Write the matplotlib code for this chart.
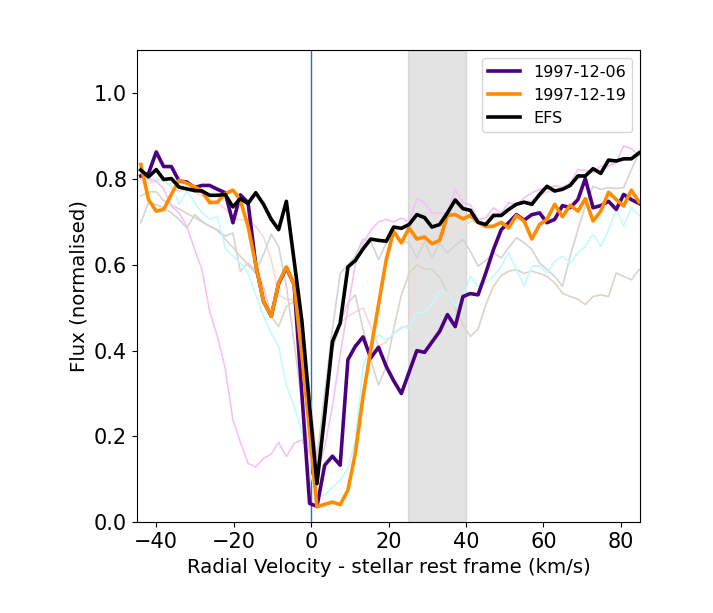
import matplotlib
matplotlib.use('Agg')
import matplotlib.pyplot as plt

# velocity grid (km/s, stellar rest frame)
velocity = [-44.0, -42.0, -40.0, -38.1, -36.1, -34.1, -32.1, -30.1, -28.2, -26.2,
            -24.2, -22.2, -20.2, -18.3, -16.3, -14.3, -12.3, -10.3, -8.4, -6.4,
            -4.4, -2.4, -0.4, 1.5, 3.5, 5.5, 7.5, 9.5, 11.4, 13.4,
            15.4, 17.4, 19.4, 21.3, 23.3, 25.3, 27.3, 29.3, 31.2, 33.2,
            35.2, 37.2, 39.2, 41.1, 43.1, 45.1, 47.1, 49.1, 51.0, 53.0,
            55.0, 57.0, 59.0, 60.9, 62.9, 64.9, 66.9, 68.9, 70.8, 72.8,
            74.8, 76.8, 78.8, 80.7, 82.7, 84.7]

# highlighted epochs
flux_1997_12_06 = [0.807, 0.813, 0.863, 0.829, 0.829, 0.795, 0.793, 0.780, 0.785, 0.785,
                   0.776, 0.768, 0.698, 0.763, 0.745, 0.600, 0.515, 0.480, 0.556, 0.593,
                   0.554, 0.300, 0.044, 0.037, 0.133, 0.154, 0.133, 0.379, 0.410, 0.432,
                   0.383, 0.408, 0.363, 0.330, 0.300, 0.350, 0.400, 0.396, 0.420, 0.445,
                   0.484, 0.456, 0.526, 0.533, 0.530, 0.581, 0.636, 0.682, 0.698, 0.717,
                   0.704, 0.717, 0.721, 0.698, 0.706, 0.738, 0.733, 0.752, 0.801, 0.733,
                   0.738, 0.748, 0.729, 0.764, 0.752, 0.743]

flux_1997_12_19 = [0.834, 0.752, 0.725, 0.729, 0.764, 0.797, 0.790, 0.782, 0.772, 0.745,
                   0.746, 0.766, 0.774, 0.751, 0.690, 0.600, 0.515, 0.480, 0.558, 0.595,
                   0.554, 0.390, 0.210, 0.036, 0.042, 0.047, 0.041, 0.075, 0.160, 0.293,
                   0.402, 0.507, 0.612, 0.678, 0.651, 0.686, 0.660, 0.665, 0.649, 0.657,
                   0.715, 0.717, 0.707, 0.715, 0.699, 0.689, 0.690, 0.699, 0.686, 0.715,
                   0.702, 0.660, 0.694, 0.706, 0.741, 0.712, 0.739, 0.725, 0.754, 0.702,
                   0.725, 0.769, 0.752, 0.737, 0.774, 0.746]

flux_efs = [0.821, 0.805, 0.822, 0.799, 0.801, 0.781, 0.777, 0.773, 0.772, 0.762,
            0.762, 0.764, 0.735, 0.754, 0.743, 0.768, 0.741, 0.706, 0.682, 0.748,
            0.610, 0.470, 0.270, 0.090, 0.250, 0.421, 0.464, 0.595, 0.610, 0.637,
            0.660, 0.657, 0.655, 0.688, 0.685, 0.694, 0.717, 0.710, 0.688, 0.694,
            0.721, 0.751, 0.731, 0.727, 0.699, 0.694, 0.715, 0.715, 0.729, 0.741,
            0.746, 0.741, 0.764, 0.783, 0.772, 0.776, 0.785, 0.807, 0.807, 0.824,
            0.813, 0.844, 0.842, 0.847, 0.847, 0.861]

# other epochs, drawn faintly in the background
flux_bg_violet = [0.811, 0.799, 0.795, 0.777, 0.737, 0.721, 0.690, 0.636, 0.589, 0.491,
                  0.433, 0.359, 0.238, 0.188, 0.137, 0.129, 0.149, 0.159, 0.186, 0.153,
                  0.184, 0.192, 0.160, 0.110, 0.176, 0.270, 0.390, 0.500, 0.600, 0.650,
                  0.680, 0.700, 0.706, 0.700, 0.709, 0.700, 0.754, 0.745, 0.721, 0.720,
                  0.720, 0.776, 0.745, 0.740, 0.706, 0.710, 0.733, 0.720, 0.745, 0.740,
                  0.756, 0.768, 0.776, 0.776, 0.785, 0.780, 0.790, 0.822, 0.820, 0.815,
                  0.830, 0.830, 0.838, 0.877, 0.871, 0.854]

flux_bg_cyan = [0.807, 0.800, 0.800, 0.795, 0.783, 0.741, 0.772, 0.745, 0.721, 0.706,
                0.713, 0.639, 0.620, 0.604, 0.581, 0.530, 0.480, 0.440, 0.410, 0.320,
                0.270, 0.210, 0.120, 0.060, 0.063, 0.082, 0.098, 0.125, 0.190, 0.363,
                0.410, 0.437, 0.425, 0.440, 0.456, 0.452, 0.488, 0.489, 0.507, 0.540,
                0.534, 0.503, 0.523, 0.573, 0.550, 0.558, 0.573, 0.597, 0.628, 0.589,
                0.550, 0.597, 0.597, 0.581, 0.608, 0.620, 0.604, 0.628, 0.643, 0.671,
                0.643, 0.682, 0.729, 0.690, 0.733, 0.715]

flux_bg_grey = [0.698, 0.745, 0.740, 0.733, 0.721, 0.706, 0.686, 0.717, 0.702, 0.690,
                0.682, 0.667, 0.674, 0.585, 0.604, 0.585, 0.624, 0.671, 0.643, 0.550,
                0.420, 0.280, 0.160, 0.120, 0.300, 0.450, 0.580, 0.600, 0.620, 0.660,
                0.655, 0.612, 0.651, 0.674, 0.655, 0.651, 0.616, 0.655, 0.616, 0.650,
                0.628, 0.645, 0.659, 0.632, 0.597, 0.610, 0.628, 0.616, 0.640, 0.663,
                0.652, 0.636, 0.604, 0.589, 0.573, 0.550, 0.620, 0.682, 0.737, 0.783,
                0.776, 0.780, 0.778, 0.780, 0.822, 0.861]

flux_bg_tan = [0.760, 0.770, 0.770, 0.750, 0.740, 0.730, 0.720, 0.710, 0.700, 0.690,
               0.680, 0.660, 0.640, 0.620, 0.600, 0.580, 0.550, 0.480, 0.456, 0.503,
               0.515, 0.400, 0.250, 0.150, 0.300, 0.400, 0.468, 0.511, 0.530, 0.450,
               0.378, 0.320, 0.363, 0.450, 0.530, 0.580, 0.600, 0.590, 0.590, 0.570,
               0.535, 0.500, 0.460, 0.433, 0.450, 0.507, 0.550, 0.575, 0.585, 0.589,
               0.580, 0.585, 0.580, 0.573, 0.558, 0.534, 0.526, 0.520, 0.507, 0.526,
               0.530, 0.526, 0.581, 0.573, 0.565, 0.589]

flux_bg_salmon = [0.800, 0.790, 0.795, 0.800, 0.780, 0.770, 0.780, 0.770, 0.760, 0.750,
                  0.745, 0.730, 0.710, 0.705, 0.705, 0.690, 0.665, 0.612, 0.530, 0.519,
                  0.519, 0.450, 0.300, 0.150, 0.250, 0.400, 0.464, 0.480, 0.490, 0.500,
                  0.456, 0.410, 0.420, 0.440, 0.452, 0.460, 0.612, 0.660, 0.663, 0.665,
                  0.674, 0.680, 0.690, 0.700, 0.700, 0.710, 0.720, 0.720, 0.730, 0.740,
                  0.745, 0.750, 0.760, 0.770, 0.770, 0.780, 0.790, 0.800, 0.810, 0.820,
                  0.820, 0.830, 0.840, 0.845, 0.850, 0.860]

fig = plt.figure(figsize=(7.13, 6.13), dpi=100)
ax = fig.add_axes([0.192, 0.148, 0.706, 0.770])

# blocked region and rest velocity
ax.axvspan(25, 40, color='grey', alpha=0.22, zorder=0)
ax.axvline(0, color='tab:blue', lw=1, zorder=1)

ax.plot(velocity, flux_bg_salmon, color='#f8d8d8', lw=1.2)
ax.plot(velocity, flux_bg_tan, color='#d9d5c8', lw=1.2)
ax.plot(velocity, flux_bg_grey, color='#d4d4d4', lw=1.2)
ax.plot(velocity, flux_bg_cyan, color='#c2fbfb', lw=1.2)
ax.plot(velocity, flux_bg_violet, color='#f8c0f8', lw=1.2)

ax.plot(velocity, flux_1997_12_06, color='indigo', lw=2.6, label='1997-12-06')
ax.plot(velocity, flux_1997_12_19, color='darkorange', lw=2.6, label='1997-12-19')
ax.plot(velocity, flux_efs, color='black', lw=2.6, label='EFS')

ax.set_xlim(-45, 85)
ax.set_ylim(0, 1.1)
ax.set_yticks([0.0, 0.2, 0.4, 0.6, 0.8, 1.0])
ax.tick_params(labelsize=15)
ax.set_xlabel('Radial Velocity - stellar rest frame (km/s)', fontsize=14.2)
ax.set_ylabel('Flux (normalised)', fontsize=14.2)
ax.legend(loc='upper right', fontsize=11.5)

fig.savefig('out.png', dpi=100)
